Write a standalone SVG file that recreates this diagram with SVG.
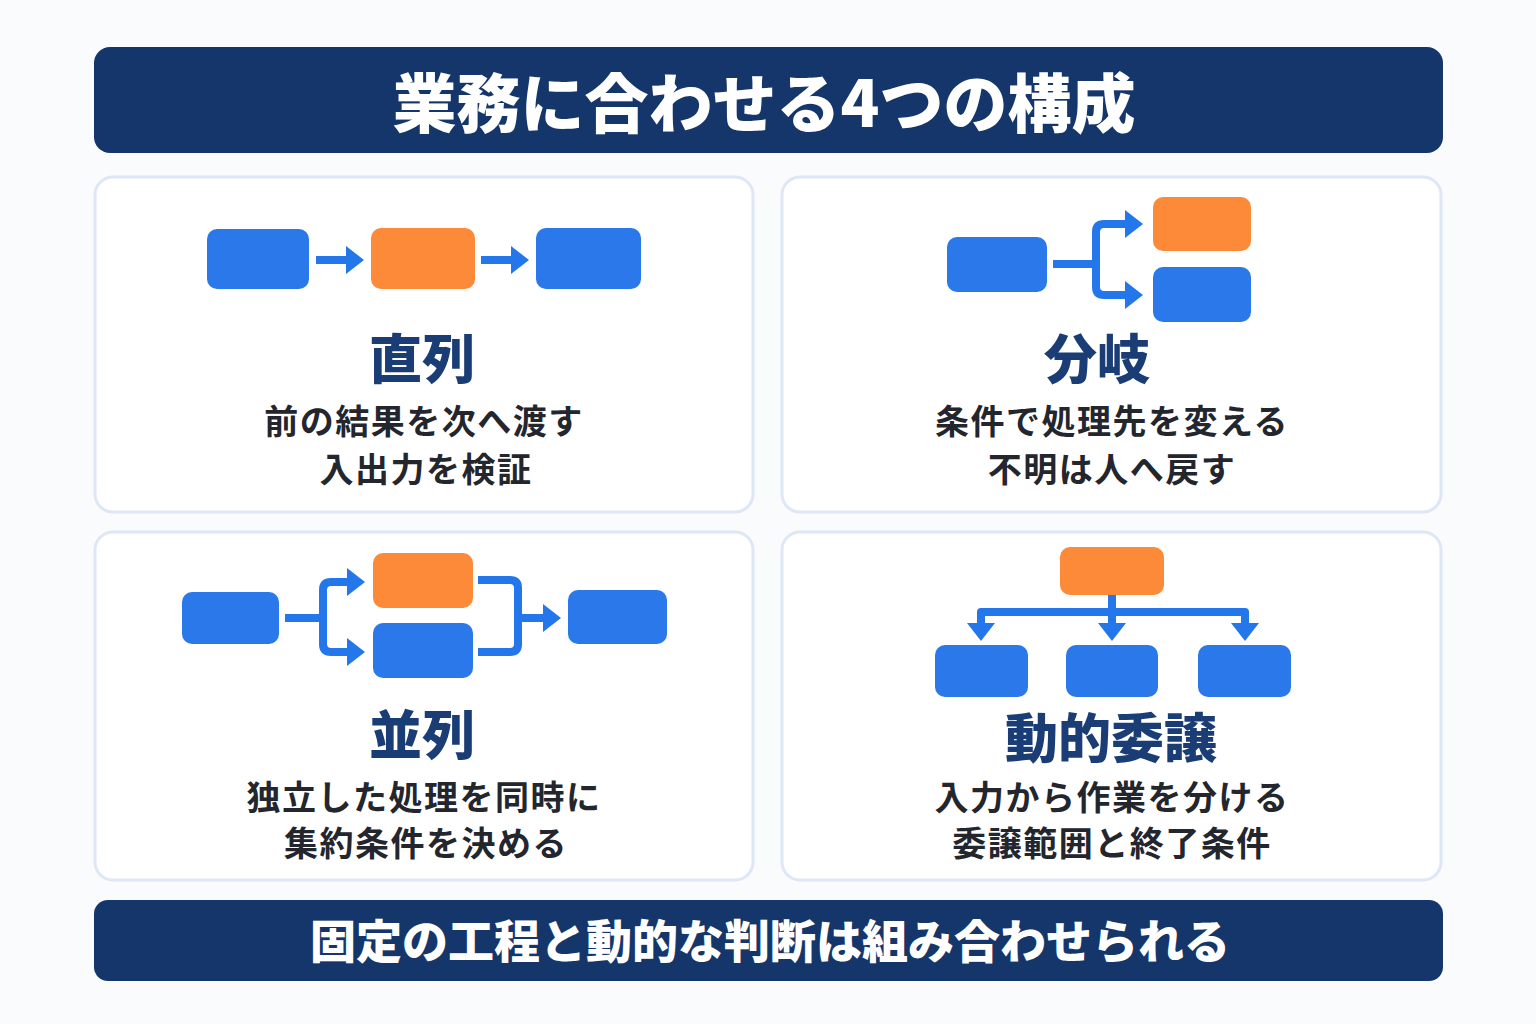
<svg xmlns="http://www.w3.org/2000/svg" width="1536" height="1024" viewBox="0 0 1536 1024">
<defs>
<style>
.bar{fill:#15366b}
.panel{fill:#ffffff;stroke:#dde7f5;stroke-width:3}
.blue{fill:#2a78ea}
.orange{fill:#fd8a38}
.con{fill:none;stroke:#2377ea;stroke-width:8;stroke-linejoin:round}
.t-main{font-family:"Noto Sans CJK JP","Noto Sans",sans-serif;font-weight:900;fill:#ffffff;text-anchor:middle}
.t-head{font-family:"Noto Sans CJK JP","Noto Sans",sans-serif;font-weight:900;fill:#1b3d75;text-anchor:middle;font-size:53px}
.t-sub{font-family:"Noto Sans CJK JP","Noto Sans",sans-serif;font-weight:700;fill:#23262d;text-anchor:middle;font-size:34px;letter-spacing:1.5px}
</style>
<marker id="ah" viewBox="0 0 18 28" refX="6" refY="14" markerWidth="18" markerHeight="28" markerUnits="userSpaceOnUse" orient="auto">
<path d="M0,0 L18,14 L0,28 Z" fill="#2377ea"/>
</marker>
</defs>
<rect width="1536" height="1024" fill="#fafbfd"/>

<g id="title">
<rect class="bar" x="94" y="47" width="1349" height="106" rx="16"/>
<text class="t-main" x="764" y="127" font-size="64">業務に合わせる4つの構成</text>
</g>

<g id="panel-serial">
<rect class="panel" x="95" y="177" width="658" height="335" rx="18"/>
<rect class="blue" x="207" y="229" width="102" height="60" rx="10"/>
<rect class="orange" x="371" y="228" width="104" height="61" rx="10"/>
<rect class="blue" x="536" y="228" width="105" height="61" rx="10"/>
<text class="t-head" x="422" y="379">直列</text>
<text class="t-sub" x="424" y="434">前の結果を次へ渡す</text>
<text class="t-sub" x="426" y="482">入出力を検証</text>
</g>

<g id="panel-branch">
<rect class="panel" x="782" y="177" width="659" height="335" rx="18"/>
<rect class="blue" x="947" y="237" width="100" height="55" rx="10"/>
<rect class="orange" x="1153" y="197" width="98" height="54" rx="10"/>
<rect class="blue" x="1153" y="267" width="98" height="55" rx="10"/>
<text class="t-head" x="1097" y="379">分岐</text>
<text class="t-sub" x="1112" y="434">条件で処理先を変える</text>
<text class="t-sub" x="1112" y="482">不明は人へ戻す</text>
</g>

<g id="panel-parallel">
<rect class="panel" x="95" y="532" width="658" height="348" rx="18"/>
<rect class="blue" x="182" y="592" width="97" height="52" rx="10"/>
<rect class="orange" x="373" y="553" width="100" height="55" rx="10"/>
<rect class="blue" x="373" y="623" width="100" height="55" rx="10"/>
<rect class="blue" x="568" y="590" width="99" height="54" rx="10"/>
<text class="t-head" x="422" y="755">並列</text>
<text class="t-sub" x="424" y="810">独立した処理を同時に</text>
<text class="t-sub" x="426" y="856">集約条件を決める</text>
</g>

<g id="panel-delegate">
<rect class="panel" x="782" y="532" width="659" height="348" rx="18"/>
<rect class="orange" x="1060" y="547" width="104" height="48" rx="10"/>
<rect class="blue" x="935" y="645" width="93" height="52" rx="10"/>
<rect class="blue" x="1066" y="645" width="92" height="52" rx="10"/>
<rect class="blue" x="1198" y="645" width="93" height="52" rx="10"/>
<text class="t-head" x="1111" y="758">動的委譲</text>
<text class="t-sub" x="1112" y="810">入力から作業を分ける</text>
<text class="t-sub" x="1112" y="856">委譲範囲と終了条件</text>
</g>

<g id="connectors">
<path class="con" d="M316,260 H352" marker-end="url(#ah)"/>
<path class="con" d="M481,260 H517" marker-end="url(#ah)"/>

<path class="con" d="M1053,264 H1096"/>
<path class="con" d="M1096,264 V232 Q1096,224 1104,224 H1131" marker-end="url(#ah)"/>
<path class="con" d="M1096,264 V287 Q1096,295 1104,295 H1131" marker-end="url(#ah)"/>

<path class="con" d="M285,618 H323"/>
<path class="con" d="M323,618 V590 Q323,582 331,582 H353" marker-end="url(#ah)"/>
<path class="con" d="M323,618 V644 Q323,652 331,652 H353" marker-end="url(#ah)"/>
<path class="con" d="M478,580 H510 Q518,580 518,588 V644 Q518,652 510,652 H478"/>
<path class="con" d="M518,618 H549" marker-end="url(#ah)"/>

<path class="con" d="M1112,595 V612"/>
<path class="con" d="M981,629 V612 H1245 V629"/>
<path class="con" d="M981,612 V629" marker-end="url(#ah)"/>
<path class="con" d="M1112,612 V629" marker-end="url(#ah)"/>
<path class="con" d="M1245,612 V629" marker-end="url(#ah)"/>
</g>

<g id="footer">
<rect class="bar" x="94" y="900" width="1349" height="81" rx="14"/>
<text class="t-main" x="770" y="958" font-size="46">固定の工程と動的な判断は組み合わせられる</text>
</g>
</svg>
